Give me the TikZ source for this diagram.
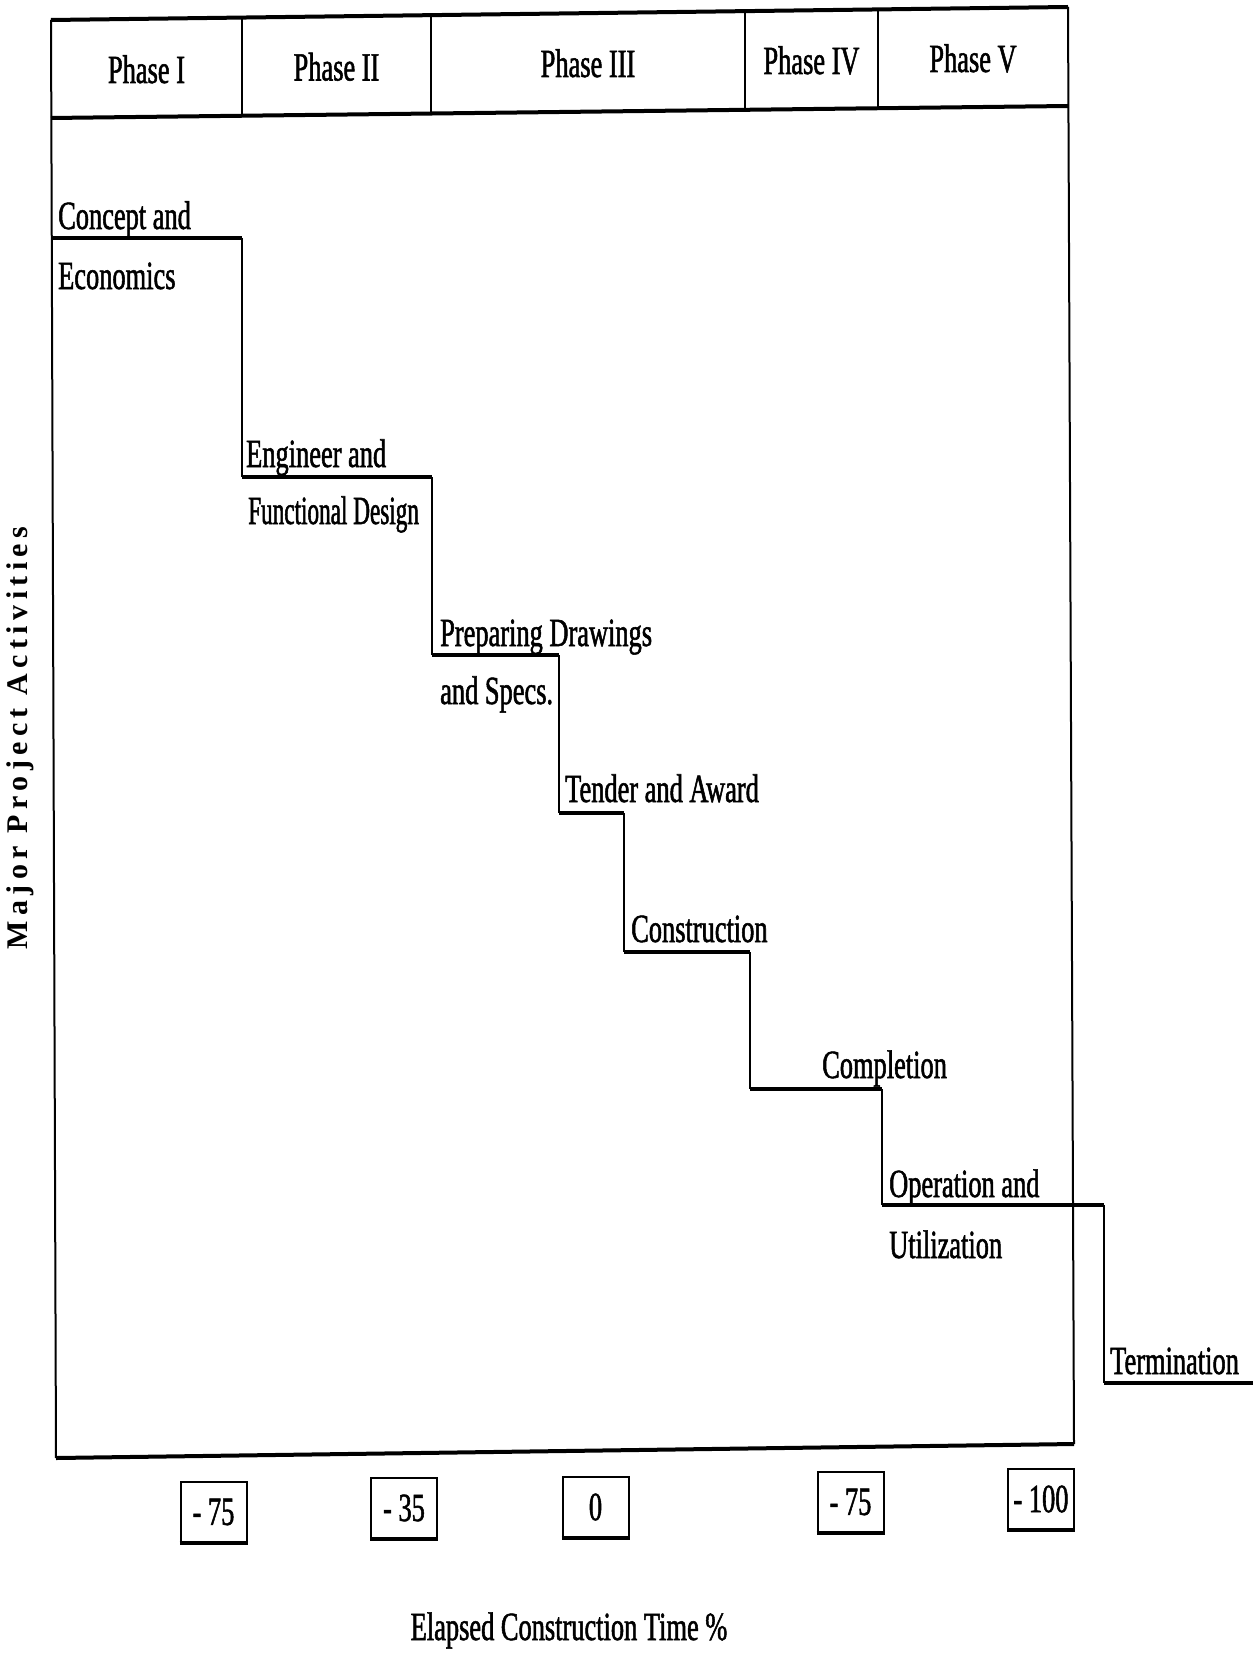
\documentclass[tikz,border=0pt]{standalone}
\usepackage{fontspec}
\setmainfont{Liberation Serif}
\newfontfamily\cond[FakeStretch=0.66, FakeBold=1.3]{Liberation Serif}
\newfontfamily\condn[FakeStretch=0.58, FakeBold=1.3]{Liberation Serif}
\newfontfamily\spaced[LetterSpace=18]{Liberation Serif Bold}
\begin{document}
\begin{tikzpicture}[x=1pt,y=-1pt,
  lab/.style={anchor=base west, inner sep=0pt, font=\cond\fontsize{40}{48}\selectfont},
  ph/.style={anchor=base, inner sep=0pt, font=\cond\fontsize{40}{48}\selectfont},
  thinline/.style={line width=2pt},
  thickline/.style={line width=4pt},
  vstep/.style={line width=2pt},
  hstep/.style={line width=3.5pt},
  valbox/.style={draw, line width=2pt, minimum width=66pt, minimum height=60pt, inner sep=0pt, font=\cond\fontsize{40}{48}\selectfont}]
\fill[white] (0,0) rectangle (1258,1653);
\useasboundingbox (0,0) rectangle (1258,1653);
% frame
\coordinate (TL) at (51,20);
\coordinate (TR) at (1068,7);
\coordinate (BR) at (1074,1444);
\coordinate (BL) at (56,1458);
\coordinate (HL) at (51,118);
\coordinate (HR) at (1068,106);
\draw[thinline] (TL) -- (BL);
\draw[thinline] (TR) -- (BR);
\draw[thickline] (TL) -- (TR);
\draw[thickline] (HL) -- (HR);
\draw[thickline] (BL) -- (BR);
% phase dividers
\coordinate (d1t) at (242,17.6);  \coordinate (d1b) at (242,115.7);
\coordinate (d2t) at (431,15.1);  \coordinate (d2b) at (431,113.5);
\coordinate (d3t) at (745,11.1);  \coordinate (d3b) at (745,109.8);
\coordinate (d4t) at (878,9.4);   \coordinate (d4b) at (878,108.2);
\draw[thinline] (d1t) -- (d1b);
\draw[thinline] (d2t) -- (d2b);
\draw[thinline] (d3t) -- (d3b);
\draw[thinline] (d4t) -- (d4b);
% phase labels
\node[ph] (p1) at (146.5,83) {Phase I};
\node[ph] (p2) at (336.5,80.5) {Phase II};
\node[ph] (p3) at (588,77) {Phase III};
\node[ph] (p4) at (811.5,74) {Phase IV};
\node[ph] (p5) at (973,72) {Phase V};
% steps
\coordinate (s0) at (51,238);
\coordinate (s1) at (242,238);
\coordinate (s2) at (242,477);
\coordinate (s3) at (432,477);
\coordinate (s4) at (432,655);
\coordinate (s5) at (559,655);
\coordinate (s6) at (559,813);
\coordinate (s7) at (624,813);
\coordinate (s8) at (624,952);
\coordinate (s9) at (750,952);
\coordinate (s10) at (750,1089);
\coordinate (s11) at (882,1089);
\coordinate (s12) at (882,1205);
\coordinate (s13) at (1104,1205);
\coordinate (s14) at (1104,1383);
\coordinate (s15) at (1253,1383);
\draw[vstep] (s1) -- (s2) (s3) -- (s4) (s5) -- (s6) (s7) -- (s8) (s9) -- (s10) (s11) -- (s12) (s13) -- (s14);
\draw[hstep] (s0) -- (s1) (s2) -- (s3) (s4) -- (s5) (s6) -- (s7) (s8) -- (s9) (s10) -- (s11) (s12) -- (s13) (s14) -- (s15);
% activity labels
\node[lab] (l1a) at (58,229) {Concept and};
\node[lab] (l1b) at (58,289) {Economics};
\node[lab] (l2a) at (246,467) {Engineer and};
\node[lab, font=\condn\fontsize{40}{48}\selectfont] (l2b) at (248,524) {Functional Design};
\node[lab] (l3a) at (440,646) {Preparing Drawings};
\node[lab] (l3b) at (440,704) {and Specs.};
\node[lab] (l4) at (565,802) {Tender and Award};
\node[lab] (l5) at (631,942) {Construction};
\node[lab] (l6) at (822,1078) {Completion};
\node[lab] (l7a) at (889,1197) {Operation and};
\node[lab] (l7b) at (889,1258) {Utilization};
\node[lab] (l8) at (1110,1374) {Termination};
% value boxes
\node[valbox] (b1) at (213.5,1512) {- 75};
\node[valbox] (b2) at (404,1508) {- 35};
\node[valbox] (b3) at (595.5,1507) {0};
\node[valbox] (b4) at (850.5,1502) {- 75};
\node[valbox] (b5) at (1041,1499) {- 100};
\foreach \b in {b1,b2,b3,b4,b5}{
  \draw[line width=3.5pt] (\b.south west) -- (\b.south east);
}
% axis titles
\node[anchor=base, inner sep=0pt, font=\cond\fontsize{40}{48}\selectfont] (xt) at (569,1640) {Elapsed Construction Time \%};
\node[rotate=90, inner sep=0pt, font=\spaced\fontsize{30}{34}\selectfont] (yt) at (20,738) {Major Project Activities};
\end{tikzpicture}
\end{document}
